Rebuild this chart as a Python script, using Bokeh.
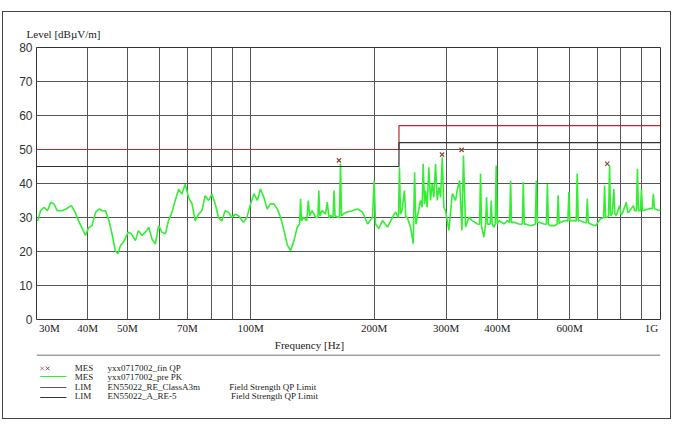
from bokeh.plotting import figure
from bokeh.layouts import column
from bokeh.models import FixedTicker, LogAxis, Range1d
from bokeh.core.properties import value
from bokeh.embed import file_html
from bokeh.resources import INLINE

# pre-scan peak trace (MHz, dBuV/m)
pk_freq = [30.2, 30.7, 31.3, 31.9, 32.5, 33.1, 33.7, 34.6, 35.4, 36.5, 37.3, 38.0, 38.7, 39.5,
           40.2, 41.0, 41.8, 42.6, 43.4, 44.2, 45.1, 45.9, 46.7, 47.4, 48.1, 48.9, 50.2, 51.1,
           52.3, 53.2, 54.3, 55.3, 56.4, 57.4, 58.5, 59.6, 60.7, 61.9, 63.0, 64.2, 65.4, 66.7,
           67.9, 69.2, 70.5, 71.9, 73.2, 74.6, 76.0, 77.4, 78.9, 80.4, 81.9, 83.4, 85.0, 86.6,
           88.3, 89.9, 91.6, 93.4,
           96.0, 97.9, 99.9, 101.8, 103.8, 105.6, 107.6, 109.7, 111.7, 113.9, 116.1, 118.2,
           120.5, 122.9, 125.1, 127.5, 129.9, 131.6, 132.3, 133.0, 134.6, 137.0, 138.2, 139.2,
           141.2, 143.9, 145.8, 146.6, 147.4, 149.3, 152.3, 153.7, 155.2, 156.6, 158.8, 159.7,
           160.6, 162.8, 164.6, 165.6, 166.5, 168.6, 171.8, 176.9, 182.2, 187.4, 192.8, 198.2,
           200.1, 201.6, 205.5, 209.5, 215.7, 221.9, 225.5, 229.4, 230.6, 232.0, 233.9, 237.2,
           239.0, 240.8, 245.4, 249.2, 251.1, 253.0, 254.9, 259.6, 262.0, 263.5, 265.5, 267.0,
           269.5, 272.0, 274.6, 277.2, 279.8, 282.5, 285.2, 288.0, 290.6, 293.4, 296.0, 298.8,
           304.5, 310.3, 316.1,
           319.0, 323.5, 327.6, 330.5, 334.4, 340.6, 347.2, 357.0, 361.8, 363.8, 365.8, 370.6,
           374.2, 376.3, 378.4, 381.2, 384.0, 386.3, 388.4, 392.0, 395.0, 397.3, 399.5, 403.4,
           415.0, 423.0, 428.5, 430.7, 433.0, 438.8, 451.4, 460.0, 462.6, 465.2, 468.5, 482.1,
           494.9, 497.7, 500.6, 505.3, 519.5, 526.7, 529.6, 532.6, 537.6, 550.0, 559.5, 562.6,
           565.8, 570.3, 586.6, 594.2, 597.6, 601.0, 609.0, 622.8, 626.3, 629.8, 635.6, 650.2,
           659.0, 662.8, 666.6, 675.1, 694.3, 714.1, 726.3, 730.4, 734.5, 741.5, 747.0, 751.1,
           755.3, 762.5, 769.5, 773.8, 779.9, 794.6, 800.4, 806.9, 825.2, 831.4, 837.6, 858.7,
           865.0, 873.5, 878.4, 883.4, 893.4, 898.4, 903.6, 911.9, 938.4, 955.0, 960.7, 966.4,
           985.9, 1000.0]
pk_level = [29, 32, 33, 32, 34.5, 34, 32, 32, 32.5, 33.5, 31.5, 29, 27, 24.7,
            27, 27.6, 31.5, 32.5, 32, 32, 29, 25, 20.3, 19.3, 21.8, 22.7, 25.7, 25.2,
            23.2, 26.1, 24.7, 25.7, 27.1, 23.7, 22.2, 27.6, 25.7, 25.2, 29.1, 31.5, 34.9, 38.3,
            36.9, 39.8, 35.9, 34, 29, 31, 32, 36.4, 35, 36.9, 34, 30, 29, 32,
            31.5, 30, 31, 30.5,
            28.6, 30.1, 34, 37, 35, 38.4, 36, 32.5, 34, 34, 32.5, 30.1,
            26.2, 21.8, 20.3, 23.2, 27.2, 28, 35.5, 29, 30.1, 29, 35, 30.5,
            32, 30.1, 30, 37.9, 30.5, 32, 31, 34.5, 30, 30.6, 30, 37.9,
            30.5, 30.1, 30, 45.8, 30.5, 31.1, 31.6, 32, 32.5, 31.6, 28.1, 30.1,
            40.9, 28.1, 26.7, 29.1, 27.2, 30.1, 31.6, 30, 44.8, 31, 32, 37.9,
            30, 30.1, 27.2, 22.3, 43.3, 28, 30.1, 35, 33, 45.8, 34, 37.9,
            33, 44.8, 35, 39.9, 36, 45.8, 35, 38.9, 36, 47.7, 33, 32,
            26.2, 37, 35,
            38, 40.9, 26.2, 48.2, 27.2, 30.1, 29.1, 28.1, 28, 42.9, 27.5, 24.2,
            28, 36, 28, 28.1, 28, 35, 28, 27.2, 28, 45.3, 28, 29.1,
            28.1, 29.1, 28.5, 40.9, 28.5, 28.6, 28.1, 28, 40.4, 28, 28.1, 27.6,
            28, 40.9, 28.5, 28.6, 28.1, 28, 39.9, 28, 27.6, 27.6, 28, 36.5,
            28.2, 28.6, 29.1, 29, 37.5, 29, 29.1, 29, 42.9, 29, 29.1, 28.6,
            28.5, 35.5, 28.5, 28.1, 27.6, 29.6, 30, 39.4, 30, 30.1, 30.5, 45.3,
            30.5, 31.1, 38.4, 31, 30.6, 33.5, 31, 31.1, 34.5, 31.5, 31.6, 33.5,
            32, 32, 44.3, 32, 32, 38.4, 32, 32.1, 32.6, 32.6, 37, 32.6,
            32.2, 32.1]

# final quasi-peak measurements
qp_freq = [164.2, 293.0, 327.0, 741.5]
qp_level = [46.8, 48.5, 49.9, 45.8]

# limit lines
limit_a_freq = [30, 230, 230, 1000]
limit_a_level = [50, 50, 57, 57]
limit_b_freq = [30, 230, 230, 1000]
limit_b_level = [45, 45, 52, 52]

x_tick_freqs = [30, 40, 50, 70, 100, 200, 300, 400, 600, 1000]
x_tick_labels = ["30M", "40M", "50M", "70M", "100M", "200M", "300M", "400M", "600M", "1G"]
grid_freqs = [40, 50, 60, 70, 80, 90, 100, 200, 300, 400, 500, 600, 700, 800, 900]
y_ticks = [0, 10, 20, 30, 40, 50, 60, 70, 80]

legend_kind = ["MES", "MES", "LIM", "LIM"]
legend_name = ["yxx0717002_fin QP", "yxx0717002_pre PK", "EN55022_RE_ClassA3m", "EN55022_A_RE-5"]
legend_desc = ["", "", "Field Strength QP Limit", "Field Strength QP Limit"]

SERIF = "Liberation Serif"
SANS = "Liberation Sans"
INK = "#222222"
GREEN = "#33ee33"
RED = "#c0282d"
DARK = "#333333"
MARK = "#8b4c3c"

# chart figure spans page x 3..670, y 12..354; its frame is at x 36..660, y 47..319
W, H1, H2 = 667, 342, 64
FRAME_L, FRAME_R = 36 - 3, 660 - 3
PX_PER_DEC = (FRAME_R - FRAME_L) / 1.5229


def fx(px):
    # page x pixel -> frequency on the log axis (used to place the free-standing labels)
    return round(30 * 10 ** ((px - 3 - FRAME_L) / PX_PER_DEC), 2)


p = figure(width=W, height=H1, x_axis_type="log", x_range=(30, 1000), y_range=(0, 80),
           output_backend="svg", toolbar_location=None,
           min_border_left=FRAME_L, min_border_right=W - FRAME_R,
           min_border_top=47 - 12, min_border_bottom=354 - 319)
p.background_fill_color = "white"
p.border_fill_color = "white"
p.outline_line_color = DARK


def style_axis(ax, font, size, standoff):
    ax.major_label_text_font = font
    ax.major_label_text_font_size = size
    ax.major_label_text_color = INK
    ax.major_label_standoff = standoff
    ax.major_tick_line_color = None
    ax.minor_tick_line_color = None
    ax.major_tick_out = 0
    ax.major_tick_in = 0
    ax.minor_tick_out = 0
    ax.minor_tick_in = 0
    ax.axis_line_color = None


# the 30M and 1G labels sit inside the frame edges, as in the original
label_pos = [fx(49)] + x_tick_freqs[1:-1] + [fx(651)]
xa = p.xaxis[0]
xa.ticker = FixedTicker(ticks=label_pos)
xa.major_label_overrides = dict(zip(label_pos, x_tick_labels))
style_axis(xa, SERIF, "11px", 2)

xlab = LogAxis(ticker=FixedTicker(ticks=[fx(309)]),
               major_label_overrides={fx(309): "Frequency [Hz]"})
style_axis(xlab, SERIF, "11px", 2)
p.add_layout(xlab, "below")

ylab = LogAxis(ticker=FixedTicker(ticks=[fx(63)]),
               major_label_overrides={fx(63): "Level [dBµV/m]"})
style_axis(ylab, SERIF, "11px", 8)
p.add_layout(ylab, "above")

ya = p.yaxis[0]
ya.ticker = FixedTicker(ticks=y_ticks)
style_axis(ya, SANS, "12px", 4)
ya.major_label_text_color = DARK

p.xgrid.ticker = FixedTicker(ticks=grid_freqs)
p.xgrid.grid_line_color = "#555555"
p.ygrid.ticker = FixedTicker(ticks=y_ticks)
p.ygrid.grid_line_color = "#555555"

p.line(pk_freq, pk_level, color=GREEN, line_width=1.6)
p.line(limit_a_freq, limit_a_level, color=RED, line_width=1.2)
p.line(limit_b_freq, limit_b_level, color=DARK, line_width=1.2)
p.scatter(qp_freq, qp_level, marker="x", size=6, color=MARK, line_width=1.2)

# legend panel below the chart (coordinates are pixels inside the panel)
lg = figure(width=W, height=H2, x_range=Range1d(0, W), y_range=Range1d(H2, 0),
            output_backend="svg", toolbar_location=None,
            x_axis_location=None, y_axis_location=None, min_border=0)
lg.grid.visible = False
lg.outline_line_color = None
lg.background_fill_color = "white"
lg.border_fill_color = "white"
lg.line([0, W], [0.5, 0.5], color="#444444", line_width=1)

row_y = [13.5, 22.5, 32, 41]
sym_y = [14, 22, 33, 43]
lg.scatter([6], [sym_y[0]], marker="x", size=5, color="#d06a6a", line_width=1)
lg.scatter([12], [sym_y[0]], marker="x", size=5, color=MARK, line_width=1)
lg.line([4, 32], [sym_y[1], sym_y[1]], color=GREEN, line_width=1)
lg.line([4, 32], [sym_y[2], sym_y[2]], color="#6a5050", line_width=1)
lg.line([4, 32], [sym_y[3], sym_y[3]], color=DARK, line_width=1)

txt = dict(text_font=value(SERIF), text_font_size=value("9px"), text_color=INK,
           text_baseline="middle")
lg.text(x=[41] * 4, y=row_y, text=legend_kind, **txt)
lg.text(x=[76] * 4, y=row_y, text=legend_name, **txt)
lg.text(x=[206, 208], y=row_y[2:], text=legend_desc[2:], **txt)

layout = column(p, lg, spacing=0, margin=(11, 0, 0, 2),
                styles={"border": "1px solid #444444"})

open("out.html", "w").write(file_html(layout, INLINE))
